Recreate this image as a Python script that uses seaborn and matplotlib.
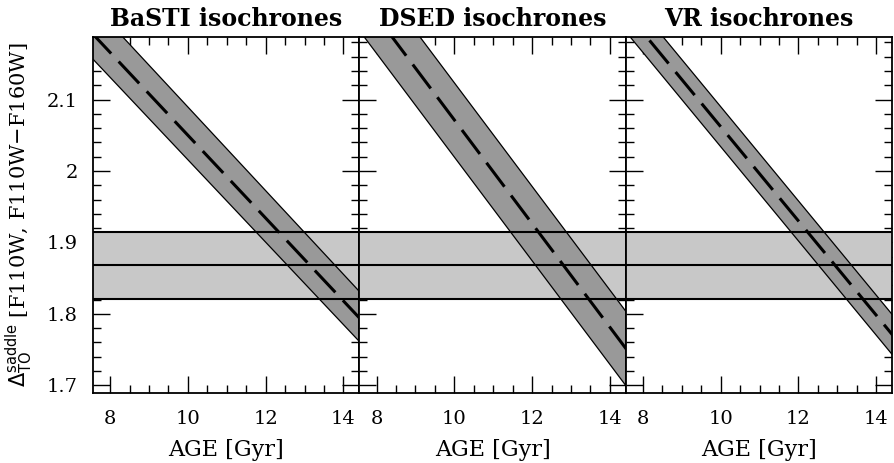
import pandas as pd
import matplotlib
matplotlib.use('Agg')
import matplotlib.pyplot as plt
import seaborn as sns
from matplotlib.ticker import MultipleLocator

# ==========================
# Datos
# ==========================
edades = [7.5, 14.5]

modelos = ['BaSTI', 'DSED', 'VR']
titulos = ['BaSTI isochrones', 'DSED isochrones', 'VR isochrones']

delta_med = {
    'BaSTI': [2.195, 1.789],
    'DSED': [2.253, 1.745],
    'VR': [2.227, 1.765],
}
delta_inf = {
    'BaSTI': [2.160, 1.756],
    'DSED': [2.201, 1.693],
    'VR': [2.199, 1.737],
}
delta_sup = {
    'BaSTI': [2.236, 1.826],
    'DSED': [2.305, 1.797],
    'VR': [2.255, 1.793],
}

# valor observado y su error
delta_obs = 1.868
delta_obs_err = 0.047

xticks = [8, 10, 12, 14]
yticks = [1.7, 1.8, 1.9, 2.0, 2.1]
ytick_labels = ['1.7', '1.8', '1.9', '2', '2.1']

# ==========================
# Tabla larga
# ==========================
filas = []
for m in modelos:
    for i, e in enumerate(edades):
        filas.append({
            'modelo': m,
            'edad': e,
            'med': delta_med[m][i],
            'inf': delta_inf[m][i],
            'sup': delta_sup[m][i],
        })
df = pd.DataFrame(filas)

# ==========================
# Figura
# ==========================
sns.set_style('ticks')
plt.rcParams['font.family'] = ['DejaVu Serif']
plt.rcParams['mathtext.fontset'] = 'dejavusans'
for clave in ['text.color', 'axes.labelcolor', 'xtick.color',
              'ytick.color', 'axes.edgecolor']:
    plt.rcParams[clave] = 'black'

fig, axes = plt.subplots(1, 3, figsize=(8.94, 4.63), dpi=100, sharey=True)
fig.subplots_adjust(left=0.104, right=0.998, top=0.920, bottom=0.151, wspace=0)

for ax, m, titulo in zip(axes, modelos, titulos):
    d = df[df['modelo'] == m]

    # banda observada
    ax.axhspan(delta_obs - delta_obs_err, delta_obs + delta_obs_err,
               color='#c8c8c8', lw=0, zorder=1)

    # banda del modelo
    ax.fill_between(d['edad'], d['inf'], d['sup'], color='#999999', lw=0, zorder=2)

    sns.lineplot(data=d, x='edad', y='inf', ax=ax, color='k', lw=0.9, zorder=3)
    sns.lineplot(data=d, x='edad', y='sup', ax=ax, color='k', lw=0.9, zorder=3)
    sns.lineplot(data=d, x='edad', y='med', ax=ax, color='k', lw=2.2,
                 linestyle=(0, (9.8, 3.6)), zorder=4)

    for yv in [delta_obs - delta_obs_err, delta_obs, delta_obs + delta_obs_err]:
        ax.axhline(yv, color='k', lw=1.5, zorder=5)

    ax.set_xlim(7.56, 14.41)
    ax.set_ylim(1.689, 2.1875)
    ax.set_xticks(xticks)
    ax.set_xticklabels([str(t) for t in xticks])
    ax.xaxis.set_minor_locator(MultipleLocator(0.5))
    ax.yaxis.set_minor_locator(MultipleLocator(0.02))

    ax.tick_params(which='both', direction='in', top=True, right=True,
                   labelsize=14, width=1)
    ax.tick_params(axis='x', which='both', pad=12)
    ax.tick_params(axis='y', which='both', pad=11)
    ax.tick_params(which='major', length=12)
    ax.tick_params(which='minor', length=6)

    for s in ax.spines.values():
        s.set_linewidth(1.3)
        s.set_zorder(6)

    ax.set_title(titulo, fontsize=17, fontweight='bold', pad=8)
    ax.set_xlabel('AGE [Gyr]', fontsize=16, labelpad=8)
    ax.set_ylabel('')

axes[0].set_yticks(yticks)
axes[0].set_yticklabels(ytick_labels)
axes[0].set_ylabel(r'$\mathrm{\Delta}^{\rm saddle}_{\rm TO}$ [F110W, F110W$-$F160W]',
                   fontsize=15, labelpad=8)

plt.savefig('out.png', dpi=100)
